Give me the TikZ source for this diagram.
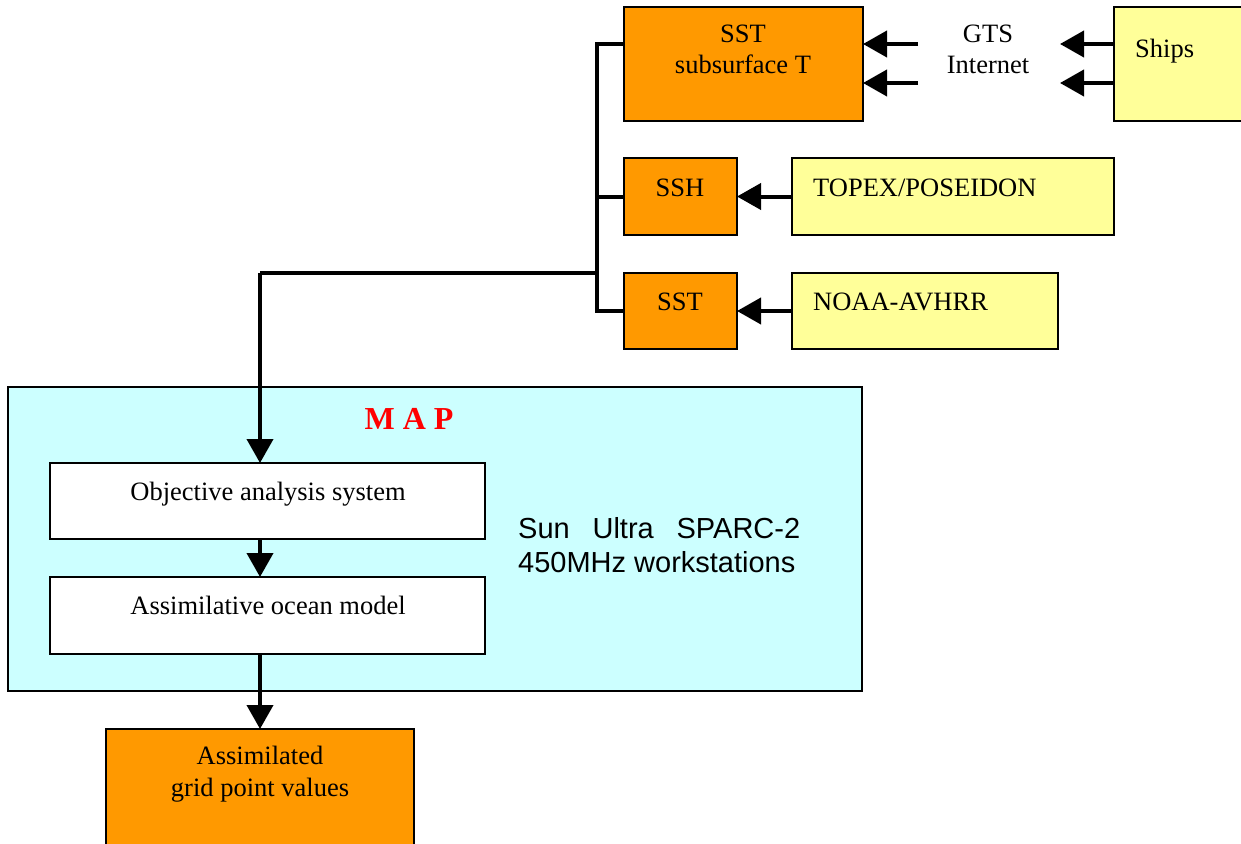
\documentclass[tikz,border=0pt]{standalone}
\usepackage{fontspec}
\setmainfont{Liberation Serif}
\setsansfont{Liberation Sans}
\usetikzlibrary{arrows.meta}
\definecolor{orangeC}{HTML}{FF9900}
\definecolor{yellowC}{HTML}{FFFF99}
\definecolor{cyanC}{HTML}{CCFFFF}
\definecolor{redC}{HTML}{FF0000}
\tikzset{
 box/.style={draw=black, line width=1.5pt, inner sep=0pt, outer sep=0pt},
 obox/.style={box, fill=orangeC},
 ybox/.style={box, fill=yellowC},
 wbox/.style={box, fill=white},
 cbox/.style={box, fill=cyanC},
 txt/.style={anchor=base, inner sep=0pt, font=\fontsize{26.5}{32}\selectfont},
 txtl/.style={txt, anchor=base west},
 sans/.style={anchor=base west, inner sep=0pt, font=\sffamily\fontsize{29}{33}\selectfont},
 arr/.style={line width=4pt, -{Triangle[length=24pt,width=26pt]}},
 bus/.style={line width=4pt},
}
\begin{document}
\begin{tikzpicture}[x=1pt,y=-1pt]
\useasboundingbox (0,0) rectangle (1241,843);
\clip (0,0) rectangle (1241,843);
% boxes
\node[cbox, minimum width=854pt, minimum height=304pt] (map) at (435,539) {};
\node[obox, minimum width=239pt, minimum height=114pt] (sub) at (743.5,64) {};
\node[ybox, minimum width=136pt, minimum height=114pt] (ships) at (1182,64) {};
\node[obox, minimum width=113pt, minimum height=77pt] (ssh) at (680.5,196.5) {};
\node[ybox, minimum width=322pt, minimum height=77pt] (topex) at (953,196.5) {};
\node[obox, minimum width=113pt, minimum height=76pt] (sst) at (680.5,311) {};
\node[ybox, minimum width=266pt, minimum height=76pt] (noaa) at (925,311) {};
\node[wbox, minimum width=435pt, minimum height=76pt] (obj) at (267.5,501) {};
\node[wbox, minimum width=435pt, minimum height=77pt] (assim) at (267.5,615.5) {};
\node[obox, minimum width=308pt, minimum height=121pt] (out) at (260,789.5) {};
% texts
\node[txt] (t1) at (743,43) {SST};
\node[txt] (t2) at (743,74) {subsurface T};
\node[txt] (t3) at (988,42) {GTS};
\node[txt] (t4) at (988,74) {Internet};
\node[txtl] (t5) at (1135,57) {Ships};
\node[txt] (t6) at (680,196) {SSH};
\node[txtl] (t7) at (813,196) {TOPEX/POSEIDON};
\node[txt] (t8) at (680,310) {SST};
\node[txtl] (t9) at (813,310) {NOAA-AVHRR};
\node[anchor=base, inner sep=0pt, text=redC, font=\bfseries\fontsize{32}{36}\selectfont] (t10) at (409,429) {M A P};
\node[txt] (t11) at (268,500) {Objective analysis system};
\node[txt] (t12) at (268,614) {Assimilative ocean model};
\node[sans] (t13) at (518,538) {\makebox[282pt][s]{Sun\hfill Ultra\hfill SPARC-2}};
\node[sans] (t14) at (518,572) {450MHz workstations};
\node[txt] (t15) at (260,764) {Assimilated};
\node[txt] (t16) at (260,796) {grid point values};
% connector coordinates
\coordinate (g1) at (918,44);
\coordinate (g2) at (918,83);
\coordinate (s1) at (1060,44);
\coordinate (s2) at (1060,83);
\coordinate (b1) at (597,44);
\coordinate (b2) at (597,197);
\coordinate (b3) at (597,311);
\coordinate (b4) at (597,273);
\coordinate (b5) at (260,273);
% arrows
\draw[arr] (g1) -- (sub.east |- g1);
\draw[arr] (g2) -- (sub.east |- g2);
\draw[arr] (ships.west |- s1) -- (s1);
\draw[arr] (ships.west |- s2) -- (s2);
\draw[arr] (topex.west) -- (ssh.east);
\draw[arr] (noaa.west) -- (sst.east);
\draw[bus] (sub.west |- b1) -- (b1) -- (b3) -- (sst.west |- b3);
\draw[bus] (b2) -- (ssh.west |- b2);
\draw[bus] (b4) -- (b5);
\draw[arr] (b5) -- (b5 |- obj.north);
\draw[arr] (obj.south -| b5) -- (assim.north -| b5);
\draw[arr] (assim.south -| out.north) -- (out.north);
\end{tikzpicture}
\end{document}
